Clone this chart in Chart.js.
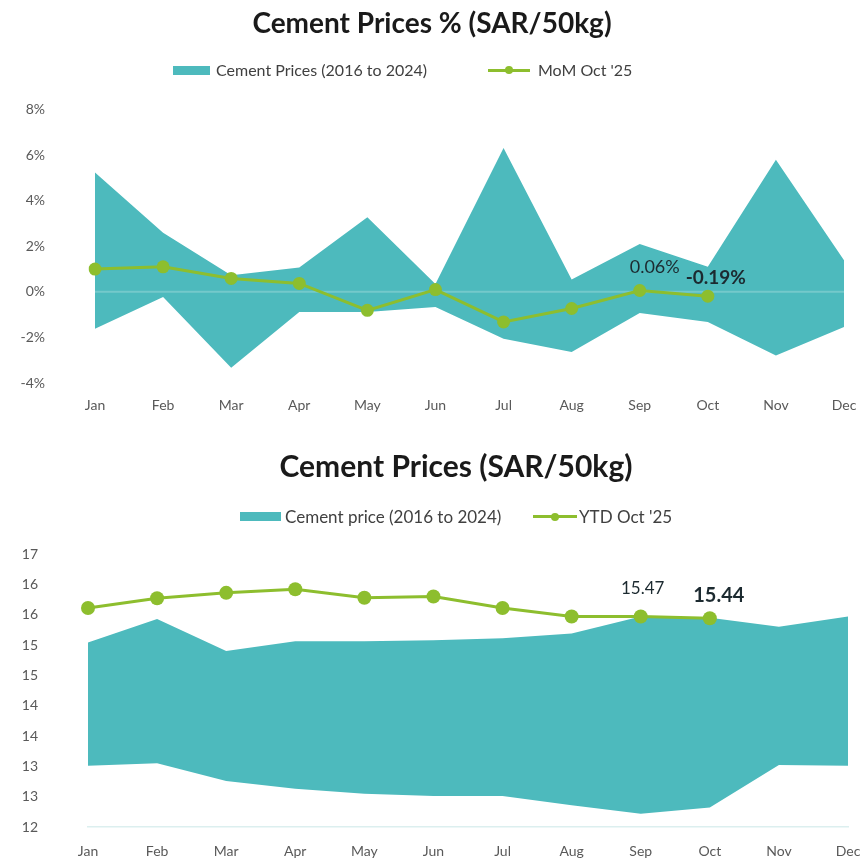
<!DOCTYPE html>
<html>
<head>
<meta charset="utf-8">
<script src="https://cdn.jsdelivr.net/npm/chart.js@4.4.1/dist/chart.umd.min.js"></script>
<style>
  body { margin: 0; background: #fff; font-family: Lato, "Open Sans", sans-serif; }
  .block { position: relative; width: 862px; }
  #topBlock { height: 430px; }
  #bottomBlock { height: 433px; }
  canvas { position: absolute; left: 0; top: 0; }
  .item { position: absolute; display: flex; align-items: center; color: #404040; white-space: nowrap; line-height: 1; }
  .box { display: inline-block; height: 9px; background: #4dbabd; margin-right: 6px; }
  .sym { position: relative; display: inline-block; height: 3px; background: #8dbe2e; margin-right: 8px; }
  .sym::after { content: ""; position: absolute; left: 50%; top: 50%; width: 8px; height: 8px; margin: -4px 0 0 -4px; border-radius: 50%; background: #8dbe2e; }
</style>
</head>
<body>
<div class="block" id="topBlock">
  <canvas id="momChart" width="862" height="430"></canvas>
  <div class="item" style="left:173px;top:62px;font-size:16px"><span class="box" style="width:37px"></span><span id="lgTopBand"></span></div>
  <div class="item" style="left:488px;top:62px;font-size:16px"><span class="sym" style="width:42px"></span><span id="lgTopLine"></span></div>
</div>
<div class="block" id="bottomBlock">
  <canvas id="ytdChart" width="862" height="433"></canvas>
  <div class="item" style="left:240px;top:78px;font-size:17px"><span class="box" style="width:41px;margin-right:4px"></span><span id="lgBotBand"></span></div>
  <div class="item" style="left:533px;top:78px;font-size:17px"><span class="sym" style="width:44px;margin-right:2px"></span><span id="lgBotLine"></span></div>
</div>
<script>
const months = ["Jan", "Feb", "Mar", "Apr", "May", "Jun", "Jul", "Aug", "Sep", "Oct", "Nov", "Dec"];

// top chart: monthly % change
const momBandLow  = [-1.62, -0.22, -3.33, -0.88, -0.88, -0.66, -2.06, -2.64, -0.93, -1.32, -2.79, -1.54];
const momBandHigh = [5.24, 2.6, 0.73, 1.07, 3.27, 0.35, 6.31, 0.54, 2.1, 1.1, 5.8, 1.39];
const momOct25    = [1.0, 1.1, 0.59, 0.37, -0.81, 0.1, -1.32, -0.73, 0.06, -0.19, null, null];
const momTicks    = ["-4%", "-2%", "0%", "2%", "4%", "6%", "8%"];

// bottom chart: price level
const ytdBandLow  = [13.01, 13.05, 12.76, 12.63, 12.55, 12.51, 12.51, 12.36, 12.22, 12.32, 13.02, 13.01];
const ytdBandHigh = [15.04, 15.43, 14.9, 15.06, 15.06, 15.08, 15.11, 15.19, 15.47, 15.45, 15.3, 15.47];
const ytdOct25    = [15.61, 15.77, 15.86, 15.92, 15.78, 15.8, 15.61, 15.47, 15.47, 15.44, null, null];
const ytdTicks    = ["12", "13", "13", "14", "14", "15", "15", "16", "16", "17"];

const TEAL = "#4dbabd";
const GREEN = "#8dbe2e";
const FONT = "Lato, 'Open Sans', sans-serif";

document.getElementById("lgTopBand").textContent = "Cement Prices (2016 to 2024)";
document.getElementById("lgTopLine").textContent = "MoM Oct '25";
document.getElementById("lgBotBand").textContent = "Cement price (2016 to 2024)";
document.getElementById("lgBotLine").textContent = "YTD Oct '25";

// text labels next to chosen points of the line dataset
const valueLabels = {
  id: "valueLabels",
  afterDatasetsDraw(chart, args, opts) {
    const meta = chart.getDatasetMeta(0);
    const ctx = chart.ctx;
    opts.items.forEach(it => {
      const pt = meta.data[it.index];
      ctx.save();
      ctx.font = (it.bold ? "bold " : "") + it.size + "px " + FONT;
      ctx.fillStyle = "#1c2a30";
      ctx.textAlign = "center";
      ctx.textBaseline = "middle";
      ctx.fillText(it.text, pt.x + it.dx, pt.y + it.dy);
      ctx.restore();
    });
  }
};

// faint zero line drawn over the band, under the line
const zeroLine = {
  id: "zeroLine",
  afterDatasetDraw(chart, args) {
    if (args.index !== 1) return;
    const y = chart.scales.y.getPixelForValue(0);
    const area = chart.chartArea;
    const ctx = chart.ctx;
    ctx.save();
    ctx.strokeStyle = "rgba(255,255,255,0.22)";
    ctx.lineWidth = 2;
    ctx.beginPath();
    ctx.moveTo(area.left, y);
    ctx.lineTo(area.right, y);
    ctx.stroke();
    ctx.restore();
  }
};

// nudge the title sideways (it is not centred on the canvas in the original)
const titleShift = {
  id: "titleShift",
  afterLayout(chart, args, opts) {
    chart.titleBlock.left += opts.dx;
    chart.titleBlock.right += opts.dx;
  }
};

function buildChart(id, cfg) {
  return new Chart(document.getElementById(id), {
    type: "line",
    data: {
      labels: months,
      datasets: [
        {
          label: cfg.lineLabel,
          data: cfg.line,
          borderColor: GREEN,
          backgroundColor: GREEN,
          borderWidth: 3,
          pointRadius: cfg.pointRadius,
          pointBackgroundColor: GREEN,
          pointBorderWidth: 0,
          tension: 0,
          fill: false
        },
        {
          label: "low",
          data: cfg.low,
          borderWidth: 0,
          pointRadius: 0,
          fill: false
        },
        {
          label: cfg.bandLabel,
          data: cfg.high,
          borderWidth: 0,
          pointRadius: 0,
          backgroundColor: TEAL,
          fill: "-1"
        }
      ]
    },
    options: {
      responsive: false,
      animation: false,
      events: [],
      layout: { padding: { left: 0, right: cfg.padRight, top: 0, bottom: 0 } },
      plugins: {
        legend: { display: false },
        tooltip: { enabled: false },
        title: {
          display: true,
          text: cfg.title,
          color: "#1a1a1a",
          font: { family: FONT, size: cfg.titleSize, weight: "bold" },
          padding: { top: cfg.titleTop, bottom: cfg.titleBottom }
        },
        titleShift: { dx: cfg.titleDx },
        valueLabels: { items: cfg.labels }
      },
      scales: {
        x: {
          grid: { display: false, drawTicks: false },
          border: { display: cfg.xBorder, color: "#dcefef", width: 1.5 },
          ticks: { color: "#595959", font: { family: FONT, size: 14 }, padding: cfg.xPad, maxRotation: 0, autoSkip: false },
          afterFit(scale) {
            scale.height = cfg.xHeight;
            scale.paddingLeft = 0;
            scale.paddingRight = 0;
          }
        },
        y: {
          min: cfg.min,
          max: cfg.max,
          grid: { display: false, drawTicks: false },
          border: { display: false },
          ticks: {
            stepSize: cfg.step,
            color: "#595959",
            font: { family: FONT, size: 14 },
            padding: cfg.yPad,
            callback: (v, i) => cfg.ticks[i]
          },
          afterFit(scale) {
            scale.width = cfg.yWidth;
            scale.paddingTop = 8;
            scale.paddingBottom = 8;
          }
        }
      }
    },
    plugins: [titleShift].concat(cfg.extraPlugins)
  });
}

buildChart("momChart", {
  title: "Cement Prices % (SAR/50kg)",
  titleSize: 28,
  titleTop: 7,
  titleBottom: 69,
  titleDx: 10,
  lineLabel: "MoM Oct '25",
  bandLabel: "Cement Prices (2016 to 2024)",
  line: momOct25,
  low: momBandLow,
  high: momBandHigh,
  ticks: momTicks,
  min: -4, max: 8, step: 2,
  pointRadius: 6.5,
  padRight: 18,
  yWidth: 95,
  yPad: 50,
  xHeight: 47,
  xPad: 14,
  xBorder: false,
  labels: [
    { index: 8, text: momOct25[8].toFixed(2) + "%", bold: false, size: 18, dx: 15, dy: -23 },
    { index: 9, text: momOct25[9].toFixed(2) + "%", bold: true, size: 19, dx: 8, dy: -18 }
  ],
  extraPlugins: [valueLabels, zeroLine]
});

buildChart("ytdChart", {
  title: "Cement Prices (SAR/50kg)",
  titleSize: 30,
  titleTop: 19,
  titleBottom: 69,
  titleDx: 32,
  lineLabel: "YTD Oct '25",
  bandLabel: "Cement price (2016 to 2024)",
  line: ytdOct25,
  low: ytdBandLow,
  high: ytdBandHigh,
  ticks: ytdTicks,
  min: 12, max: 16.5, step: 0.5,
  pointRadius: 7,
  padRight: 14,
  yWidth: 88,
  yPad: 50,
  xHeight: 36,
  xPad: 16,
  xBorder: true,
  labels: [
    { index: 8, text: ytdOct25[8].toFixed(2), bold: false, size: 17, dx: 2, dy: -28 },
    { index: 9, text: ytdOct25[9].toFixed(2), bold: true, size: 20, dx: 9, dy: -23 }
  ],
  extraPlugins: [valueLabels]
});
</script>
</body>
</html>
